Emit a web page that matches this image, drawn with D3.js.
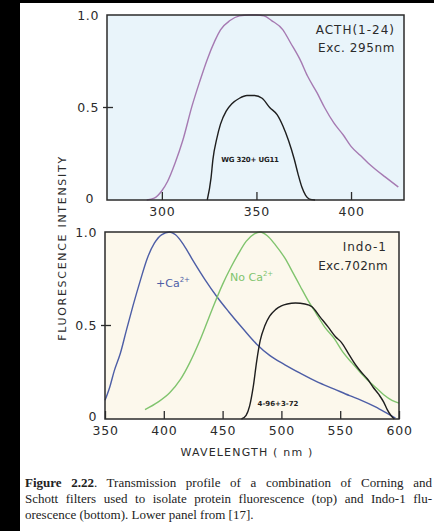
<!DOCTYPE html>
<html>
<head>
<meta charset="utf-8">
<script src="https://cdn.jsdelivr.net/npm/d3@7"></script>
<style>
	body { margin: 0; background: #fff; }
	svg { display: block; }
	.lbl { font-family: "DejaVu Sans", sans-serif; fill: #2b2b2b; }
	.cap { font-family: "Liberation Serif", serif; font-size: 13px; fill: #222; }
</style>
</head>
<body>
<div id="chart"></div>
<script>
// top panel: ACTH(1-24) emission and WG320+UG11 filter
const acthWl  = [292, 296, 300, 303, 307, 311, 316, 320, 324, 328, 331, 336, 341, 346, 350, 354, 358, 364, 368, 373, 377, 382, 386, 391, 396, 400, 405, 409, 413, 418, 425];
const acthVal = [0, 0.01, 0.05, 0.1, 0.2, 0.32, 0.51, 0.64, 0.76, 0.86, 0.92, 0.97, 0.995, 1.0, 1.0, 0.995, 0.97, 0.92, 0.85, 0.76, 0.67, 0.58, 0.5, 0.415, 0.35, 0.29, 0.24, 0.2, 0.165, 0.125, 0.07];
const wgWl    = [324, 326, 327, 329, 331, 334, 337, 341, 345, 349, 353, 357, 361, 364, 367, 370, 372, 374, 376, 378, 381];
const wgVal   = [0, 0.12, 0.22, 0.33, 0.41, 0.48, 0.52, 0.55, 0.565, 0.565, 0.55, 0.5, 0.46, 0.4, 0.32, 0.22, 0.14, 0.07, 0.025, 0.005, 0];

// bottom panel: Indo-1 with and without Ca2+, 4-96+3-72 filter
const caWl    = [350, 354, 358, 363, 368, 374, 380, 386, 392, 398, 405, 410, 417, 425, 435, 445, 455, 467, 479, 490, 503, 516, 530, 545, 558, 568, 580, 590, 597];
const caVal   = [0.1, 0.17, 0.26, 0.35, 0.47, 0.61, 0.74, 0.86, 0.94, 0.985, 1.0, 0.985, 0.93, 0.845, 0.745, 0.655, 0.575, 0.485, 0.4, 0.34, 0.29, 0.245, 0.2, 0.16, 0.125, 0.1, 0.065, 0.03, 0.005];
const noCaWl  = [384, 395, 405, 414, 422, 430, 437, 442, 450, 457, 464, 470, 477, 482, 488, 495, 503, 510, 516, 523, 530, 537, 545, 552, 560, 567, 573, 580, 587, 594, 600];
const noCaVal = [0.05, 0.09, 0.14, 0.21, 0.3, 0.41, 0.52, 0.6, 0.72, 0.81, 0.89, 0.95, 0.99, 1.0, 0.98, 0.93, 0.86, 0.78, 0.71, 0.63, 0.56, 0.49, 0.43, 0.36, 0.3, 0.25, 0.21, 0.17, 0.13, 0.1, 0.085];
const filtWl  = [466, 470, 473, 476, 479, 482, 486, 490, 495, 500, 505, 512, 520, 526, 533, 540, 546, 551, 557, 563, 568, 573, 578, 583, 587, 590, 593, 596];
const filtVal = [0, 0.02, 0.07, 0.17, 0.31, 0.42, 0.5, 0.55, 0.585, 0.605, 0.615, 0.62, 0.615, 0.6, 0.545, 0.49, 0.44, 0.41, 0.35, 0.29, 0.25, 0.215, 0.17, 0.13, 0.09, 0.05, 0.02, 0];

const topTicks = [300, 350, 400];
const botTicks = [350, 400, 450, 500, 550, 600];
const yTicks = [0, 0.5, 1];

const captionLines = [
	["Figure 2.22", ". Transmission profile of a combination of Corning and"],
	["", "Schott filters used to isolate protein fluorescence (top) and Indo-1 flu-"],
	["", "orescence (bottom). Lower panel from [17]."]
];

const width = 434, height = 531;
const svg = d3.select('#chart').append('svg')
	.attr('width', width)
	.attr('height', height);

// scanned page edges
svg.append('rect').attr('x', 0).attr('y', 0).attr('width', 20).attr('height', height).attr('fill', '#000');
svg.append('rect').attr('x', 0).attr('y', 0).attr('width', width).attr('height', 3).attr('fill', '#000');

const zip = (xs, ys) => xs.map((x, i) => ({x: x, y: ys[i]}));

function panel(opts){
	const x = d3.scaleLinear().domain(opts.xDomain).range([opts.left, opts.right]);
	const y = d3.scaleLinear().domain([0, 1]).range([opts.bottom, opts.top]);
	const g = svg.append('g');

	g.append('rect')
		.attr('x', opts.left).attr('y', opts.top)
		.attr('width', opts.right - opts.left)
		.attr('height', opts.bottom - opts.top)
		.attr('fill', opts.bg);

	const line = d3.line()
		.x(d => x(d.x))
		.y(d => y(d.y))
		.curve(d3.curveMonotoneX);

	opts.series.forEach(s => {
		g.append('path')
			.datum(zip(s.wl, s.val))
			.attr('d', line)
			.attr('fill', 'none')
			.attr('stroke', s.color)
			.attr('stroke-width', 1.4);
	});

	// x axis ticks point up into the plot
	const xAxis = g.append('g')
		.attr('transform', `translate(0,${opts.bottom})`)
		.call(d3.axisBottom(x).tickValues(opts.xTicks).tickSizeInner(-8).tickSizeOuter(0).tickPadding(5));
	xAxis.select('.domain').remove();
	xAxis.selectAll('line').attr('stroke', '#2b2b2b').attr('stroke-width', 1.3);
	xAxis.selectAll('text')
		.attr('class', 'lbl')
		.attr('font-size', 12.5)
		.attr('letter-spacing', 0.8)
		.attr('dy', '0.85em')
		.attr('font-family', null);

	const yAxis = g.append('g')
		.attr('transform', `translate(${opts.left},0)`)
		.call(d3.axisLeft(y).tickValues(yTicks).tickSize(0).tickPadding(8)
			.tickFormat(d => d === 0 ? '0' : d3.format('.1f')(d)));
	yAxis.select('.domain').remove();
	yAxis.selectAll('text')
		.attr('class', 'lbl')
		.attr('font-size', 12.5)
		.attr('letter-spacing', 0.6)
		.attr('font-family', null)
		.attr('x', d => d === 0 ? -opts.zeroPad : -8)
		.attr('dy', d => d === 0 ? opts.zeroDy : '0.32em');

	// short tick across the frame at 0.5
	g.append('line')
		.attr('x1', opts.left - 4).attr('x2', opts.left + 6)
		.attr('y1', y(0.5)).attr('y2', y(0.5))
		.attr('stroke', '#2b2b2b').attr('stroke-width', 1.3);

	g.append('rect')
		.attr('x', opts.left).attr('y', opts.top)
		.attr('width', opts.right - opts.left)
		.attr('height', opts.bottom - opts.top)
		.attr('fill', 'none')
		.attr('stroke', '#2b2b2b')
		.attr('stroke-width', 1.5);

	return {g, x, y};
}

const topPanel = panel({
	xDomain: [271, 428], left: 107, right: 404, top: 15, bottom: 200,
	bg: '#e9f4fa', xTicks: topTicks, zeroPad: 13, zeroDy: '0.2em',
	series: [
		{wl: acthWl, val: acthVal, color: '#a67ab2'},
		{wl: wgWl, val: wgVal, color: '#1e1e1e'}
	]
});

const botPanel = panel({
	xDomain: [350, 600], left: 105, right: 399, top: 232, bottom: 419,
	bg: '#fcf8ec', xTicks: botTicks, zeroPad: 8, zeroDy: '0.1em',
	series: [
		{wl: caWl, val: caVal, color: '#4d5ea6'},
		{wl: noCaWl, val: noCaVal, color: '#80c46e'},
		{wl: filtWl, val: filtVal, color: '#1e1e1e'}
	]
});

// annotations
function note(g, x, y, txt, size, anchor, color, weight){
	return g.append('text')
		.attr('class', 'lbl')
		.attr('x', x).attr('y', y)
		.attr('font-size', size)
		.attr('text-anchor', anchor)
		.attr('font-weight', weight || 'normal')
		.style('fill', color || '#2b2b2b')
		.text(txt);
}

note(topPanel.g, 395, 34, 'ACTH(1-24)', 12, 'end').attr('letter-spacing', 1);
note(topPanel.g, 395, 52, 'Exc. 295nm', 12, 'end').attr('letter-spacing', 0.6);
note(topPanel.g, 250, 162, 'WG 320+ UG11', 7, 'middle', '#1e1e1e', 'bold').attr('letter-spacing', -0.2);

note(botPanel.g, 387, 251, 'Indo-1', 12, 'end').attr('letter-spacing', 1);
note(botPanel.g, 388, 270, 'Exc.702nm', 12, 'end').attr('letter-spacing', 0.3);
note(botPanel.g, 278, 406, '4-96+3-72', 7, 'middle', '#1e1e1e', 'bold');

const ca = note(botPanel.g, 156, 287, '+Ca', 11, 'start', '#4d5ea6');
ca.append('tspan').attr('font-size', 7).attr('dy', -5).text('2+');
const noCa = note(botPanel.g, 230, 281, 'No  Ca', 11, 'start', '#80c46e');
noCa.append('tspan').attr('font-size', 7).attr('dy', -5).text('2+');

// axis titles
svg.append('text')
	.attr('class', 'lbl')
	.attr('transform', 'translate(66,248) rotate(-90)')
	.attr('text-anchor', 'middle')
	.attr('font-size', 11)
	.attr('letter-spacing', 1.7)
	.text('FLUORESCENCE  INTENSITY');

svg.append('text')
	.attr('class', 'lbl')
	.attr('x', 247).attr('y', 456)
	.attr('text-anchor', 'middle')
	.attr('font-size', 11)
	.attr('letter-spacing', 1.2)
	.text('WAVELENGTH  ( nm )');

// caption, first two lines justified
const capLeft = 25, capRight = 432, capY = [487, 503, 519];
captionLines.forEach((parts, i) => {
	const t = svg.append('text')
		.attr('class', 'cap')
		.attr('x', capLeft).attr('y', capY[i]);
	if (parts[0]) t.append('tspan').attr('font-weight', 'bold').text(parts[0]);
	t.append('tspan').text(parts[1]);
	if (i < 2) {
		const w = t.node().getComputedTextLength();
		const gaps = (parts[0] + parts[1]).split(' ').length - 1;
		t.attr('word-spacing', (capRight - capLeft - w) / gaps);
	}
});
</script>
</body>
</html>
